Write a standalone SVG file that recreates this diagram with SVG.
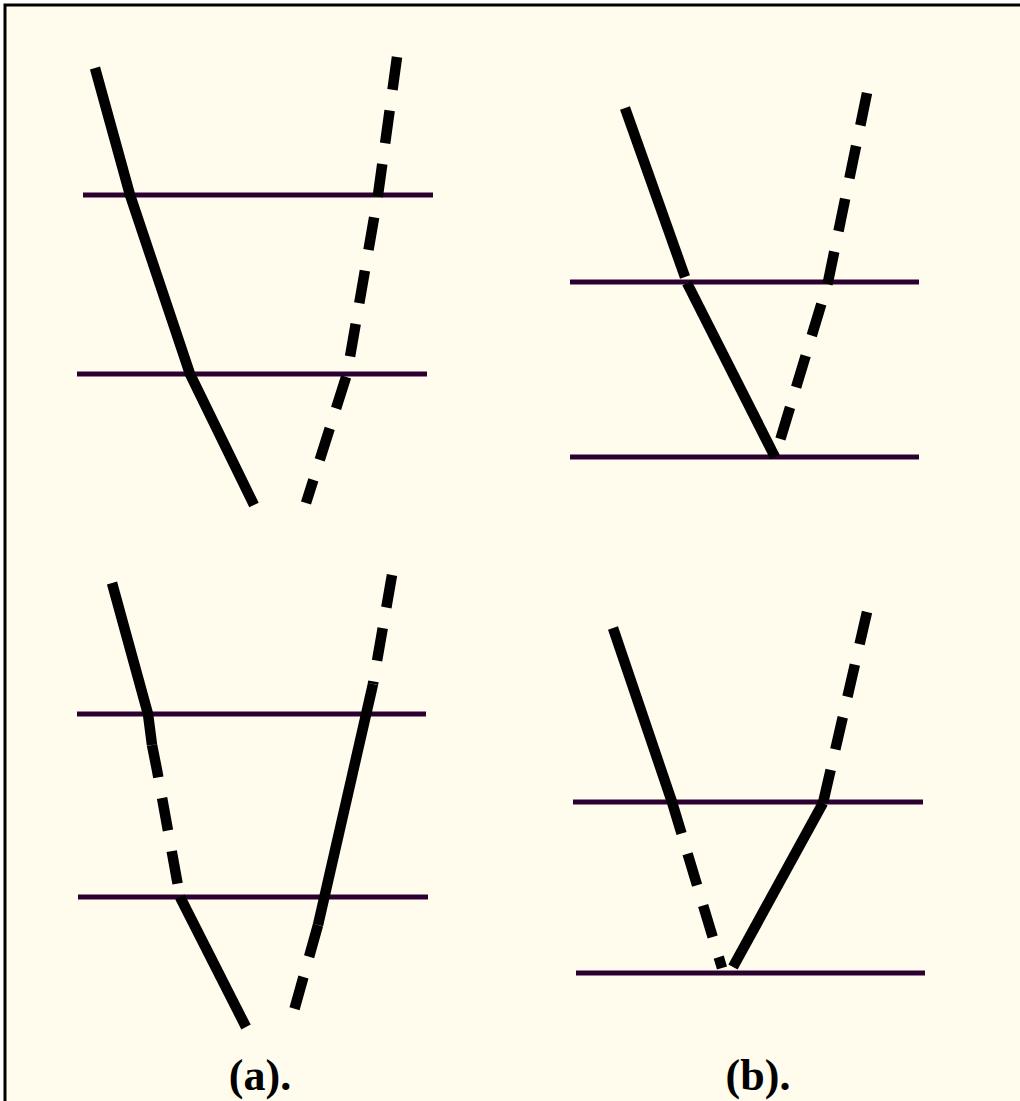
<svg xmlns="http://www.w3.org/2000/svg" width="1020" height="1101" viewBox="0 0 1020 1101">
<style>
.bg{fill:#fffcee;stroke:#000;stroke-width:3}
.h{stroke:#2b0030;stroke-width:5;fill:none}
.s{stroke:#000;stroke-width:10.5;fill:none;stroke-linejoin:miter}
.d{stroke:#000;stroke-width:10.5;fill:none;stroke-dasharray:33 21}
.lbl{font-family:"Liberation Serif","Times New Roman",serif;font-weight:bold;font-size:44px;fill:#000;text-anchor:middle}
</style>
<rect class="bg" x="5" y="5" width="1030" height="1110"/>
<g id="panel-a-top">
<line class="h" x1="83" y1="195" x2="433" y2="195"/>
<line class="h" x1="77" y1="374" x2="427" y2="374"/>
</g>
<g id="panel-b-top">
<line class="h" x1="570" y1="282" x2="919" y2="282"/>
<line class="h" x1="570" y1="457" x2="919" y2="457"/>
</g>
<g id="panel-a-bottom">
<line class="h" x1="77" y1="714" x2="426" y2="714"/>
<line class="h" x1="78" y1="897" x2="428" y2="897"/>
</g>
<g id="panel-b-bottom">
<line class="h" x1="573" y1="802" x2="923" y2="802"/>
<line class="h" x1="576" y1="973" x2="925" y2="973"/>
</g>
<g id="connectors">
<polyline class="s" points="95,68 130,195 190,374 254,505"/>
<polyline class="d" points="397,57 378,195 347,374 306,503"/>
<polyline class="s" points="625,108 685,277"/>
<polyline class="s" points="687,283 775,457"/>
<polyline class="d" points="867,93 828,282 775,457"/>
<polyline class="s" points="112,583 148,714 152,745"/>
<polyline class="d" points="152,745 157,770 180,897"/>
<polyline class="s" points="180,897 246,1027"/>
<polyline class="d" points="392,575 373,684"/>
<polyline class="s" points="373,684 318,925"/>
<polyline class="d" points="318,925 290,1025"/>
<polyline class="s" points="613,628 672,802"/>
<polyline class="d" points="672,802 722,968"/>
<polyline class="s" points="733,967 823,803"/>
<polyline class="d" points="867,612 823,803"/>
</g>
<g id="labels">
<text class="lbl" x="260" y="1090">(a).</text>
<text class="lbl" x="758" y="1090">(b).</text>
</g>
</svg>
